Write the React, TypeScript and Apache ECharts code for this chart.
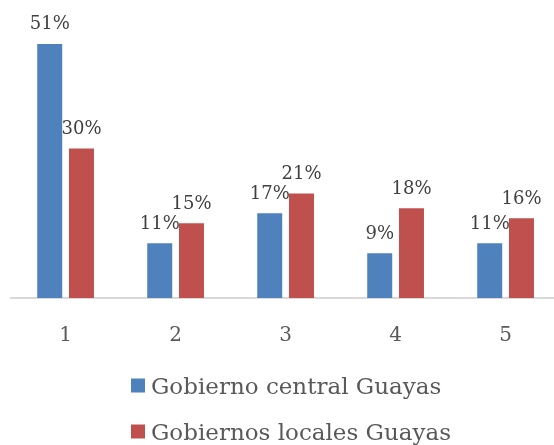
import React, { useEffect, useRef } from "react";
import * as echarts from "echarts";

const categories = ["1", "2", "3", "4", "5"];
const centralValues = [51, 11, 17, 9, 11];
const localValues = [30, 15, 21, 18, 16];
const seriesNames = ["Gobierno central Guayas", "Gobiernos locales Guayas"];

const FONT = "DejaVu Serif";

export default function App() {
  const ref = useRef<HTMLDivElement>(null);
  useEffect(() => {
    if (!ref.current) return;
    const chart = echarts.init(ref.current, null, { renderer: "svg" });
    const label = {
      show: true,
      position: "top" as const,
      distance: 12,
      formatter: "{c}%",
      fontFamily: FONT,
      fontSize: 18,
      color: "#404040",
    };
    const legendBase = {
      orient: "vertical",
      left: 131,
      padding: 0,
      itemWidth: 14,
      itemHeight: 14,
      itemGap: 0,
      icon: "rect",
      textStyle: { fontFamily: FONT, fontSize: 23, color: "#595959", padding: [0, 0, 0, 1] },
    };
    chart.setOption({
      animation: false,
      grid: { left: 10.6, right: -6.6, top: 19, bottom: 147, outerBoundsMode: "none", containLabel: false },
      xAxis: {
        type: "category",
        data: categories,
        axisLine: { lineStyle: { color: "#d9d9d9", width: 2 } },
        axisTick: { show: false },
        axisLabel: {
          fontFamily: FONT,
          fontSize: 20,
          color: "#595959",
          margin: 26,
        },
      },
      yAxis: {
        type: "value",
        min: 0,
        max: 56,
        show: false,
        splitLine: { show: false },
      },
      legend: [
        { ...legendBase, top: 374, data: [seriesNames[0]] },
        { ...legendBase, top: 420, data: [seriesNames[1]] },
      ],
      series: [
        {
          name: seriesNames[0],
          type: "bar",
          data: centralValues,
          barWidth: 25,
          barGap: "27%",
          itemStyle: { color: "#4f81bd" },
          label,
        },
        {
          name: seriesNames[1],
          type: "bar",
          data: localValues,
          barWidth: 25,
          itemStyle: { color: "#c0504d" },
          label,
        },
      ],
    });
    return () => chart.dispose();
  }, []);
  return <div ref={ref} style={{ width: 554, height: 445, position: "fixed", left: 0, top: 0 }} />;
}
